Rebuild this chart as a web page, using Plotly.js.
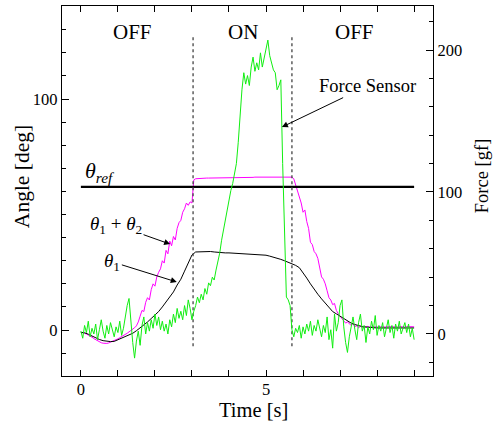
<!DOCTYPE html>
<html>
<head>
<meta charset="utf-8">
<script src="https://cdn.plot.ly/plotly-3.0.1.min.js"></script>
<style>html,body{margin:0;padding:0;background:#fff;}#chart{width:502px;height:423px;}</style>
</head>
<body>
<div id="chart"></div>
<script>
// sampling steps of the recorded series [s]
const angleStep = 0.1;
const fastStep = 0.05;

// theta1 [deg], sampled every 0.1 s from t = 0
const theta1 = [-1.0,-1.2,-1.8,-2.6,-3.4,-4.1,-4.6,-4.9,-5.0,-4.9,
 -4.2,-3.6,-3.0,-2.3,-1.4,-0.3,0.9,2.2,3.5,5.0,
 6.5,8.0,10.0,12.0,14.0,16.5,19.5,22.0,25.5,29.0,
 32.5,33.8,33.9,34.0,34.1,34.0,33.8,33.6,33.5,33.4,
 33.4,33.3,33.3,33.2,33.2,33.1,33.0,33.0,32.8,32.6,
 32.4,32.0,31.6,31.0,30.6,30.0,29.4,28.6,28.0,27.0,
 25.0,22.5,20.0,17.5,15.5,13.5,11.5,9.5,8.0,7.0,
 6.0,5.0,4.0,3.0,2.4,1.9,1.5,1.3,1.1,1.0,
 0.9,0.9,0.9,0.9,0.9,0.9,0.9,0.9,0.9,0.9,0.9];

// theta1 + theta2 [deg], sampled every 0.05 s from t = 0
const theta12 = [-1.0,-1.1,-1.4,-1.7,-2.1,-2.6,-3.1,-3.7,-4.2,-4.7,
 -5.1,-5.5,-5.7,-5.8,-5.8,-5.6,-5.3,-5.0,-4.6,-4.2,
 -3.8,-3.3,-2.9,-2.4,-1.9,-1.4,-0.8,-0.3,0.3,1.0,
 1.8,3.5,6.0,8.5,8.0,12.0,14.0,13.0,17.5,20.0,
 19.0,23.0,25.0,26.5,30.0,29.0,34.5,33.0,38.5,36.5,
 40.5,39.0,44.0,46.5,47.5,51.0,52.5,55.0,54.0,55.5,
 55.0,65.0,65.5,65.6,65.6,65.7,65.7,65.7,65.8,65.8,
 65.8,65.8,65.9,65.9,65.9,65.9,65.9,66.0,66.0,66.0,
 66.0,66.0,66.0,66.0,66.0,66.1,66.1,66.1,66.1,66.1,
 66.1,66.1,66.1,66.1,66.2,66.2,66.2,66.2,66.2,66.2,
 66.2,66.2,66.2,66.3,66.3,66.3,66.3,66.3,66.3,66.3,
 66.3,66.3,66.3,66.3,66.2,65.5,63.0,60.0,57.0,55.0,
 51.0,52.0,47.0,44.0,38.0,37.0,34.0,33.0,31.0,27.0,
 23.0,22.0,20.0,17.0,14.0,13.0,11.0,11.5,8.5,7.0,
 6.0,5.0,4.5,3.0,3.5,2.5,2.0,2.8,1.5,1.8,
 1.0,1.6,1.2,1.5,1.3,1.6,1.2,1.4,1.3,1.5,
 1.3,1.4,1.3,1.5,1.4,1.3,1.5,1.4,1.3,1.4,
 1.4,1.3,1.5,1.4,1.4,1.3,1.5,1.4,1.4,1.4,
 1.4];

// force sensor [gf], sampled every 0.05 s from t = 0
const force = [2,-3,6,1,9,-2,4,0,7,-4,
 3,10,2,-3,6,0,8,3,-2,5,
 1,9,-1,4,14,20,25,8,-6,-17,
 -5,2,-8,6,12,0,8,2,10,4,
 14,6,12,3,9,2,7,0,10,5,
 14,8,18,11,16,10,20,13,24,18,
 10,16,20,26,22,28,24,32,28,36,
 34,40,38,45,50,57,66,73,82,87,
 95,101,106,112,120,135,155,172,184,176,
 182,175,188,195,185,191,186,198,188,194,
 200,207,196,191,186,184,172,175,179,120,
 68,26,24,20,3,-2,4,1,6,-3,
 5,0,7,2,9,-1,6,2,10,4,
 -2,6,1,12,-4,3,-10,14,2,8,
 20,24,5,-6,-13,-2,6,12,3,-4,
 8,14,2,6,-6,5,0,9,3,13,
 -1,6,2,8,-2,5,10,1,6,-3,
 7,2,9,0,5,8,1,7,-2,4,
 -4];

const thetaRef = 62;              // reference angle [deg]
const refSpan = [0, 9];           // time span of reference line [s]
const switchTimes = [3.03, 5.70]; // ON/OFF switching instants [s]
const switchSpan = [-7, 127];     // vertical extent of switch markers [deg]
const phaseLabels = ['OFF', 'ON', 'OFF'];
const phaseTimes = [1.4, 4.38, 7.4];
const xTicks = [0, 5];
const yTicks = [0, 100];
const y2Ticks = [0, 100, 200];
const xTitle = 'Time [s]';
const yTitle = 'Angle [deg]';
const y2Title = 'Force [gf]';

const tAngle = theta1.map((_, i) => +(i * angleStep).toFixed(2));
const tFast = force.map((_, i) => +(i * fastStep).toFixed(2));

const serif = '"Liberation Serif", serif';
const txtFont = (s) => ({family: serif, size: s, color: '#000'});

const traces = [
  {x: tFast, y: force, yaxis: 'y2', mode: 'lines', line: {color: '#11ee11', width: 1}, hoverinfo: 'skip'},
  {x: tFast, y: theta12, mode: 'lines', line: {color: '#ff00ff', width: 1}, hoverinfo: 'skip'},
  {x: tAngle, y: theta1, mode: 'lines', line: {color: '#000000', width: 1}, hoverinfo: 'skip'},
  {x: refSpan, y: [thetaRef, thetaRef], mode: 'lines', line: {color: '#000000', width: 2.2}, hoverinfo: 'skip'}
];
switchTimes.forEach(ts => traces.push({
  x: [ts, ts], y: switchSpan, mode: 'lines',
  line: {color: '#444444', width: 1.3, dash: 'dot'}, hoverinfo: 'skip'
}));

const annotations = phaseLabels.map((txt, i) => ({
  x: phaseTimes[i], y: 129, xref: 'x', yref: 'y', text: txt, showarrow: false,
  font: txtFont(21)
}));
const arrowStyle = {showarrow: true, arrowhead: 2, arrowsize: 1.2, arrowwidth: 1, arrowcolor: '#000',
  axref: 'x', ayref: 'y', xref: 'x', yref: 'y', standoff: 0, startstandoff: 0};
const centred = {xanchor: 'center', yanchor: 'middle', showarrow: false, xref: 'paper', yref: 'paper'};
annotations.push(
  Object.assign({x: 5.43, y: 87.9, ax: 7.73, ay: 105.6, text: 'Force Sensor', font: txtFont(18.5)}, arrowStyle),
  {x: 0.51, y: 68.5, xref: 'x', yref: 'y', text: '<i>θ</i><sub><i>ref</i></sub>', showarrow: false,
   font: txtFont(22)},
  Object.assign({x: 2.41, y: 37.2, ax: 0.95, ay: 45.5,
   text: '<i>θ</i><sub>1</sub> + <i>θ</i><sub>2</sub>', font: txtFont(19)}, arrowStyle),
  Object.assign({x: 2.59, y: 20.8, ax: 0.85, ay: 29.5,
   text: '<i>θ</i><sub>1</sub>', font: txtFont(19)}, arrowStyle),
  // axis titles (placed like in the original figure, slightly above centre)
  Object.assign({x: 0.515, y: -0.092, text: xTitle, font: txtFont(20.5)}, centred),
  Object.assign({x: -0.108, y: 0.54, text: yTitle, textangle: -90, font: txtFont(21.5)}, centred),
  Object.assign({x: 1.132, y: 0.54, text: y2Title, textangle: -90, font: txtFont(18.5)}, centred)
);

const layout = {
  width: 502, height: 423,
  margin: {l: 62, r: 69, t: 6, b: 47},
  paper_bgcolor: '#fff', plot_bgcolor: '#fff',
  showlegend: false,
  font: {family: serif, size: 16.5, color: '#000'},
  xaxis: {
    range: [-0.51, 9.51], tickmode: 'array', tickvals: xTicks, ticks: 'inside', ticklen: 6,
    tickcolor: '#000', minor: {tickmode: 'linear', tick0: 0, dtick: 1, ticks: 'inside', ticklen: 6, tickcolor: '#000'},
    showline: true, linecolor: '#000', linewidth: 1.3, mirror: 'ticks',
    showgrid: false, zeroline: false, ticklabelstandoff: -2,
    tickfont: {family: serif, size: 16.5}
  },
  yaxis: {
    range: [-19.9, 140.3], tickmode: 'array', tickvals: yTicks, ticks: 'inside', ticklen: 7,
    tickcolor: '#000', minor: {tickmode: 'linear', tick0: 0, dtick: 10, ticks: 'inside', ticklen: 4, tickcolor: '#000'},
    showline: true, linecolor: '#000', linewidth: 1.3,
    showgrid: false, zeroline: false,
    tickfont: {family: serif, size: 16.5}
  },
  yaxis2: {
    overlaying: 'y', side: 'right',
    range: [-29.6, 231.0], tickmode: 'array', tickvals: y2Ticks, ticks: 'inside', ticklen: 7,
    tickcolor: '#000', minor: {tickmode: 'linear', tick0: 0, dtick: 20, ticks: 'inside', ticklen: 4, tickcolor: '#000'},
    showline: true, linecolor: '#000', linewidth: 1.3,
    showgrid: false, zeroline: false,
    tickfont: {family: serif, size: 16.5}
  },
  annotations: annotations
};

Plotly.newPlot('chart', traces, layout, {staticPlot: true, displayModeBar: false});
</script>
</body>
</html>
